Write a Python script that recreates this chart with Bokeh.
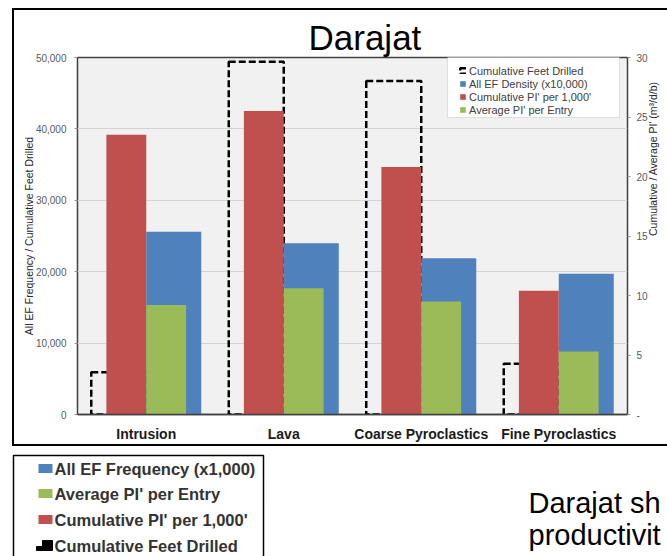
from math import pi
from bokeh.plotting import figure
from bokeh.layouts import column, row
from bokeh.core.properties import value
from bokeh.models import (FactorRange, Range1d, LinearAxis, FixedTicker, NumeralTickFormatter,
                          Legend, LegendItem, BoxAnnotation, ColumnDataSource, Spacer)
from bokeh.transform import dodge
from bokeh.embed import file_html
from bokeh.resources import INLINE

# ---------------- data ----------------
title_text = "Darajat"
categories = ["Intrusion", "Lava", "Coarse Pyroclastics", "Fine Pyroclastics"]
feet_drilled = [5900, 49400, 46700, 7100]          # left axis
ef_density = [25600, 24000, 21900, 19700]           # left axis
cum_pi = [23.5, 25.5, 20.8, 10.4]                   # right axis
avg_pi = [9.2, 10.6, 9.5, 5.3]                      # right axis
left_ticks = [0, 10000, 20000, 30000, 40000, 50000]
right_ticks = [0, 5, 10, 15, 20, 25, 30]
left_axis_title = "All EF Frequency / Cumulative Feet Drilled"
right_axis_title = "Cumulative / Average PI' (m³/d/b)"
chart_legend = ["Cumulative Feet Drilled", "All EF Density (x10,000)",
                "Cumulative PI' per 1,000'", "Average PI' per Entry"]
slide_legend = ["All EF Frequency (x1,000)", "Average PI' per Entry",
                "Cumulative PI' per 1,000'", "Cumulative Feet Drilled"]
slide_text = ["Darajat sh", "productivit"]

BLUE, RED, GREEN = "#4F81BD", "#C0504D", "#9BBB59"
FONT = "Liberation Sans"

# ---------------- chart figure ----------------
CW, CH = 653, 434          # chart canvas (page x 14..667, y 10..444)
p = figure(width=CW, height=CH,
           x_range=FactorRange(factors=categories, range_padding=0),
           y_range=Range1d(0, 50000),
           output_backend="svg", toolbar_location=None,
           min_border_left=63, min_border_right=35,
           min_border_top=47, min_border_bottom=24,
           background_fill_color="#F1F1F1", border_fill_color="white")
p.extra_y_ranges = {"pi": Range1d(0, 30)}
p.outline_line_color = "#404040"
p.outline_line_width = 1.5

p.title.text = title_text
p.title.align = "left"
p.title.offset = 231
p.title.standoff = 1
p.title.text_font = FONT
p.title.text_font_size = "35px"
p.title.text_font_style = "normal"
p.title.text_color = "black"

# grid
p.xgrid.visible = False
p.ygrid.ticker = FixedTicker(ticks=left_ticks)
p.ygrid.grid_line_color = "#D4D4D4"
p.ygrid.grid_line_width = 1

# left axis
ya = p.yaxis[0]
ya.ticker = FixedTicker(ticks=left_ticks)
ya.formatter = NumeralTickFormatter(format="0,0")
ya.axis_line_color = None
ya.major_tick_out = 3
ya.major_tick_in = 0
ya.major_tick_line_color = "#909090"
ya.minor_tick_line_color = None
ya.major_label_standoff = 8
ya.major_label_text_font = FONT
ya.major_label_text_font_size = "10px"
ya.major_label_text_color = "#595959"
ya.axis_label = left_axis_title
ya.axis_label_standoff = -2
ya.axis_label_text_font = FONT
ya.axis_label_text_font_size = "10.5px"
ya.axis_label_text_font_style = "normal"
ya.axis_label_text_color = "#262626"

# right axis
ra = LinearAxis(y_range_name="pi", ticker=FixedTicker(ticks=right_ticks),
                major_label_overrides={0: "-"})
ra.axis_line_color = None
ra.major_tick_out = 3
ra.major_tick_in = 0
ra.major_tick_line_color = "#909090"
ra.minor_tick_line_color = None
ra.major_label_standoff = 6
ra.major_label_text_font = FONT
ra.major_label_text_font_size = "10px"
ra.major_label_text_color = "#595959"
ra.axis_label = right_axis_title
ra.axis_label_standoff = 2
ra.axis_label_text_font = FONT
ra.axis_label_text_font_size = "10.5px"
ra.axis_label_text_font_style = "normal"
ra.axis_label_text_color = "#262626"
try:
    ra.axis_label_orientation = pi / 2
except Exception:
    pass
p.add_layout(ra, "right")

# x axis
xa = p.xaxis[0]
xa.axis_line_color = "#404040"
xa.axis_line_width = 1.5
xa.major_tick_line_color = None
xa.major_label_standoff = 5
xa.major_label_text_font = FONT
xa.major_label_text_font_size = "14px"
xa.major_label_text_font_style = "bold"
xa.major_label_text_color = "#1A1A1A"

# bars
src = ColumnDataSource(dict(cat=categories, feet=feet_drilled, ef=ef_density,
                            cum=cum_pi, avg=avg_pi))
r_feet = p.vbar(x=dodge("cat", -0.2, range=p.x_range), top="feet", width=0.4, source=src,
                fill_color=None, line_color="black", line_width=2.5, line_dash="7 3")
r_ef = p.vbar(x=dodge("cat", 0.2, range=p.x_range), top="ef", width=0.4, source=src,
              fill_color=BLUE, line_color=None)
r_cum = p.vbar(x=dodge("cat", -0.145, range=p.x_range), top="cum", width=0.29, source=src,
               fill_color=RED, line_color=None, y_range_name="pi")
r_avg = p.vbar(x=dodge("cat", 0.145, range=p.x_range), top="avg", width=0.29, source=src,
               fill_color=GREEN, line_color=None, y_range_name="pi")

# in-chart legend (frame-relative screen px; frame = page x 77..632, y 57..420)
def fx(px):
    return px - 77

def fy(py):
    return 420 - py

p.add_layout(BoxAnnotation(left=fx(447), right=fx(619), top=fy(62), bottom=fy(123),
                           left_units="screen", right_units="screen",
                           top_units="screen", bottom_units="screen",
                           fill_color="white", fill_alpha=1,
                           line_color="#A6A6A6", line_width=1))
legend = Legend(items=[LegendItem(label=chart_legend[0], renderers=[r_feet]),
                       LegendItem(label=chart_legend[1], renderers=[r_ef]),
                       LegendItem(label=chart_legend[2], renderers=[r_cum]),
                       LegendItem(label=chart_legend[3], renderers=[r_avg])],
                location=(fx(459), fy(122)), padding=0, spacing=0, margin=0,
                border_line_color=None, background_fill_alpha=0,
                label_text_font=FONT, label_text_font_size="11px",
                label_text_color="#404040", glyph_height=7, glyph_width=7,
                label_height=13, label_standoff=3)
p.add_layout(legend)

# ---------------- lower slide area (page y 446..556, data coords = page px) ----------------
p2 = figure(width=667, height=110, x_range=Range1d(0, 667), y_range=Range1d(556, 446),
            output_backend="svg", toolbar_location=None, x_axis_type=None, y_axis_type=None,
            min_border=0, min_border_left=0, min_border_right=0,
            min_border_top=0, min_border_bottom=0,
            background_fill_color="white", border_fill_color="white")
p2.outline_line_color = None
p2.grid.visible = False

row_y = [468, 493, 519, 545]
p2.quad(left=[13], right=[263], top=[455], bottom=[620], fill_color=None,
        line_color="black", line_width=1.5)
p2.quad(left=[38, 38, 38], right=[52, 52, 52],
        top=[row_y[0] - 4.5, row_y[1] - 4.5, row_y[2] - 4.5],
        bottom=[row_y[0] + 4.5, row_y[1] + 4.5, row_y[2] + 4.5],
        fill_color=[BLUE, GREEN, RED], line_color=None)
iy = row_y[3]
p2.patch(x=[36, 36, 42, 42, 52, 52], y=[iy + 5, iy + 1, iy + 1, iy - 5, iy - 5, iy + 5],
         fill_color="black", line_color="black", line_width=1)
p2.text(x=[54] * 4, y=row_y, text=slide_legend, text_baseline="middle",
        text_font=value(FONT), text_font_size="16.5px", text_font_style="bold",
        text_color="#333333")
p2.text(x=[528, 528], y=[502, 534], text=slide_text, text_baseline="alphabetic",
        text_font=value(FONT), text_font_size="29px", text_color="black")

# ---------------- page layout (incl. the black chart frame) ----------------
def black(w, h):
    return Spacer(width=w, height=h, styles={"background-color": "black"})

def gap(w, h):
    return Spacer(width=w, height=h)

root = column(
    gap(667, 8),
    row(gap(12, 2), black(655, 2)),
    row(gap(12, CH), black(2, CH), p),
    row(gap(12, 2), black(655, 2)),
    p2,
)

open("out.html", "w").write(file_html(root, INLINE))
